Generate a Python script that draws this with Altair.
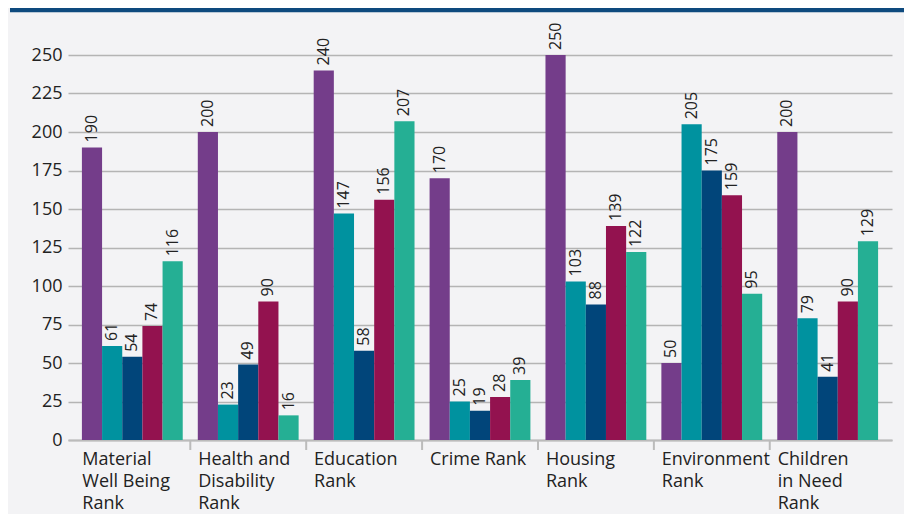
import json
import altair as alt
import pandas as pd

categories = [
    "Material Well Being Rank",
    "Health and Disability Rank",
    "Education Rank",
    "Crime Rank",
    "Housing Rank",
    "Environment Rank",
    "Children in Need Rank",
]
label_lines = [
    ["Material", "Well Being", "Rank"],
    ["Health and", "Disability", "Rank"],
    ["Education", "Rank"],
    ["Crime Rank"],
    ["Housing", "Rank"],
    ["Environment", "Rank"],
    ["Children", "in Need", "Rank"],
]
series_names = ["Series 1", "Series 2", "Series 3", "Series 4", "Series 5"]
series_colors = ["#743d8a", "#00929f", "#01457a", "#93124f", "#25af94"]

s1 = [190, 200, 240, 170, 250, 50, 200]
s2 = [61, 23, 147, 25, 103, 205, 79]
s3 = [54, 49, 58, 19, 88, 175, 41]
s4 = [74, 90, 156, 28, 139, 159, 90]
s5 = [116, 16, 207, 39, 122, 95, 129]
y_ticks = [0, 25, 50, 75, 100, 125, 150, 175, 200, 225, 250]

rows = []
for name, vals in zip(series_names, [s1, s2, s3, s4, s5]):
    for c, v in zip(categories, vals):
        rows.append({"category": c, "series": name, "value": v})
df = pd.DataFrame(rows)
sep_df = pd.DataFrame({"category": categories[1:]})

label_expr = " : ".join(
    f"datum.value == {json.dumps(c)} ? {json.dumps(l)}" for c, l in zip(categories, label_lines)
) + " : datum.value"

FONT = "Open Sans"
W, H = 824, 385
x_scale = alt.Scale(paddingInner=0.13, paddingOuter=0.12)
x_axis = alt.Axis(
    title=None,
    grid=False,
    ticks=False,
    domainColor="#bbbbbb",
    domainWidth=2,
    labelAngle=0,
    labelAlign="left",
    labelBaseline="top",
    labelOffset=-50,
    labelPadding=10,
    labelFont=FONT,
    labelFontSize=18,
    labelColor="#222222",
    labelLineHeight=22,
    labelExpr=label_expr,
)

x_enc = alt.X("category:N", sort=categories, scale=x_scale, axis=x_axis)
xo_enc = alt.XOffset("series:N", sort=series_names, scale=alt.Scale(paddingInner=0, paddingOuter=0))
y_enc = alt.Y(
    "value:Q",
    scale=alt.Scale(domain=[0, 250], nice=False),
    axis=alt.Axis(
        title=None,
        values=y_ticks,
        ticks=False,
        domain=False,
        gridColor="#b4b4b4",
        gridWidth=1.5,
        labelFont=FONT,
        labelFontSize=18,
        labelColor="#222222",
        labelPadding=6,
    ),
)

base = alt.Chart(df)
bars = base.mark_bar().encode(
    x=x_enc,
    xOffset=xo_enc,
    y=y_enc,
    color=alt.Color("series:N", sort=series_names,
                    scale=alt.Scale(domain=series_names, range=series_colors), legend=None),
)
texts = base.mark_text(
    angle=270, align="left", baseline="middle", dx=5, font=FONT, fontSize=16, color="#222222"
).encode(
    x=x_enc,
    xOffset=xo_enc,
    y=y_enc,
    text=alt.Text("value:Q"),
)
separators = alt.Chart(sep_df).mark_rule(color="#bbbbbb", strokeWidth=2).encode(
    x=alt.X("category:N", sort=categories, scale=x_scale, bandPosition=0, axis=x_axis),
    xOffset=alt.value(-7.5),
    y=alt.value(H),
    y2=alt.value(H + 10),
)
top_band = alt.Chart(pd.DataFrame({"k": [0]})).mark_rule(color="#0e4a7e", strokeWidth=4.5).encode(
    x=alt.value(-58), x2=alt.value(W + 12), y=alt.value(-45)
)

chart = alt.layer(bars, texts, separators, top_band).properties(
    width=W,
    height=H,
    autosize=alt.AutoSizeParams(type="none"),
    padding={"left": 60, "top": 47, "right": 12, "bottom": 74},
    background="#f3f3f5",
).configure_view(stroke=None)

chart.save("out.html", embed_options={"renderer": "svg", "actions": False})
